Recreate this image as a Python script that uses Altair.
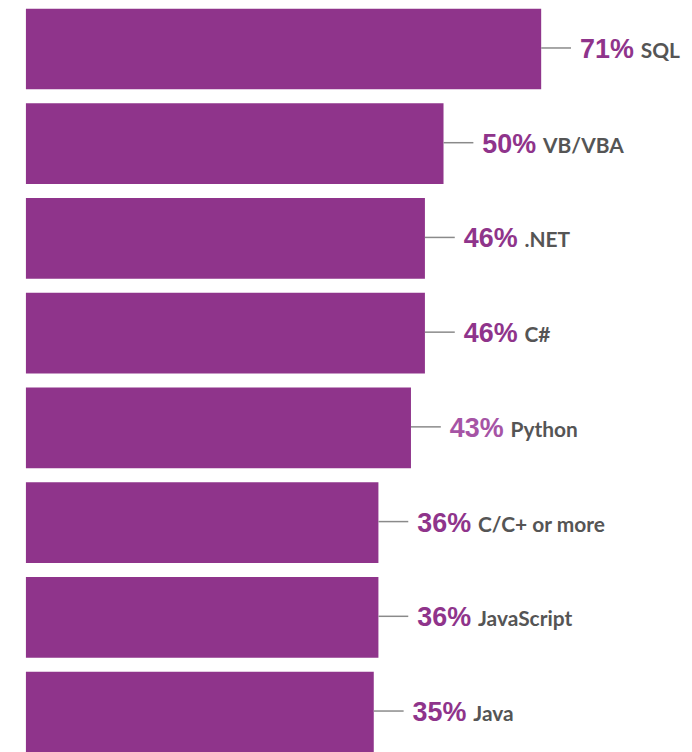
import altair as alt
import pandas as pd

categories = ["SQL", "VB/VBA", ".NET", "C#", "Python", "C/C+ or more", "JavaScript", "Java"]
values = [71, 50, 46, 46, 43, 36, 36, 35]
pct_labels = ["71%", "50%", "46%", "46%", "43%", "36%", "36%", "35%"]
highlight = "Python"

D0 = -39.8
D1 = 100
PX_PER_UNIT = 4.673

df = pd.DataFrame({"category": categories, "value": values, "pct": pct_labels})
df["base"] = D0

PURPLE = "#8F348B"
LIGHT = "#A654A5"

x_scale = alt.Scale(domain=[D0, D1], zero=False, nice=False)
y_enc = alt.Y("category:N", sort=categories, axis=None,
              scale=alt.Scale(paddingInner=0.1486, paddingOuter=0, round=False))

base = alt.Chart(df).encode(y=y_enc)

bars = base.mark_bar(color=PURPLE).encode(
    x=alt.X("value:Q", scale=x_scale, axis=None),
    x2="base:Q",
)

# connector: from bar end to bar end + ~30px (expressed in data units)
line_len = 30 / PX_PER_UNIT
connector = base.transform_calculate(
    line_end=f"datum.value + {line_len}"
).mark_rule(color="#8a8a8a", strokeWidth=1.5, yOffset=-1).encode(
    x=alt.X("value:Q", scale=x_scale, axis=None),
    x2="line_end:Q",
)

pct = base.mark_text(
    align="left", baseline="alphabetic", dx=39, dy=9,
    font="Liberation Sans", fontWeight="bold", fontSize=27,
).encode(
    x=alt.X("value:Q", scale=x_scale, axis=None),
    text="pct:N",
    color=alt.condition(alt.datum.category == highlight, alt.value(LIGHT), alt.value(PURPLE)),
)

lab = base.mark_text(
    align="left", baseline="alphabetic", dx=100, dy=9,
    font="Lato", fontWeight="bold", fontSize=21, color="#555555",
).encode(
    x=alt.X("value:Q", scale=x_scale, axis=None),
    text="category:N",
)

chart = alt.layer(bars, connector, pct, lab).properties(
    width=round((D1 - D0) * PX_PER_UNIT),
    height=747,
    autosize=alt.AutoSizeParams(type="none"),
    padding={"left": 18, "top": -1, "right": 8, "bottom": 0},
).configure_view(stroke=None)

chart.save("out.html", embed_options={"renderer": "svg", "actions": False})
